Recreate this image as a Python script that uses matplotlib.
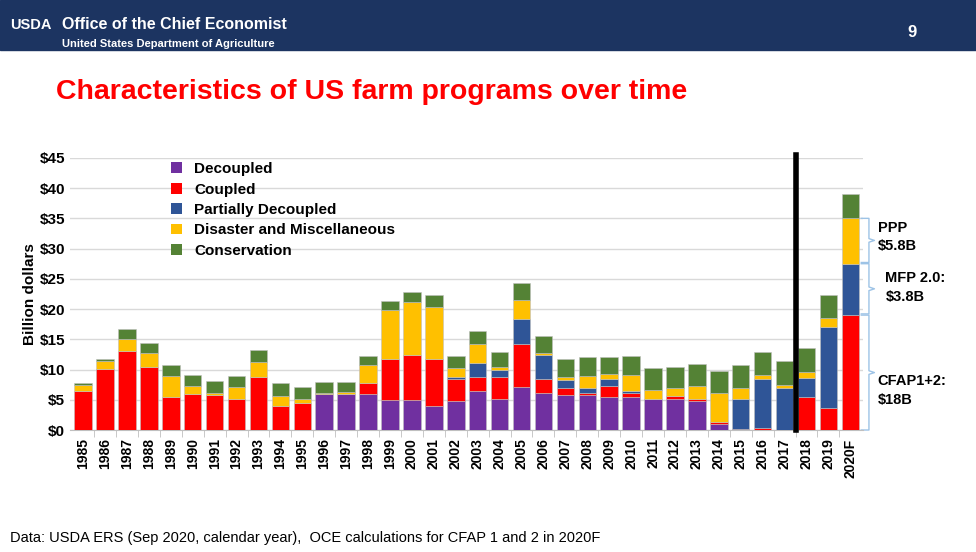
import matplotlib.pyplot as plt
import numpy as np

years = [str(y) for y in range(1985, 2020)] + ['2020F']
decoupled = [0, 0, 0, 0, 0, 0, 0, 0, 0, 0, 0, 5.9, 6.0, 5.9, 5.0, 5.0, 3.9, 4.8, 6.5, 5.1,
             7.1, 6.1, 5.8, 5.8, 5.4, 5.4, 5.2, 5.2, 4.8, 1.0, 0, 0, 0, 0, 0, 0]
coupled = [6.4, 10.1, 13.1, 10.4, 5.5, 5.9, 5.8, 5.2, 8.7, 3.9, 4.4, -0.2, -0.2, 1.9, 6.8, 7.4, 7.9, 3.7, 2.2, 3.7,
           7.2, 2.3, 1.2, 0.3, 1.9, 0.8, 0, 0.5, 0.4, 0.3, 0.1, 0.4, 0, 5.4, 3.6, 19.0]
partial = [0, 0, 0, 0, 0, 0, 0, 0, 0, 0, 0, 0, 0, 0, 0, 0, 0, 0.2, 2.3, 1.1,
           4.0, 4.0, 1.2, 0.8, 1.2, 0.2, 0, 0, 0, 0, 5.1, 8.0, 6.9, 3.2, 13.4, 8.5]
disaster = [1.0, 1.3, 1.9, 2.3, 3.5, 1.4, 0.4, 1.9, 2.6, 1.8, 0.8, 0.3, 0.3, 2.9, 8.1, 8.7, 8.6, 1.6, 3.3, 0.6,
            3.2, 0.3, 0.5, 2.1, 0.7, 2.7, 1.4, 1.2, 2.0, 4.8, 1.8, 0.7, 0.6, 1.0, 1.5, 7.5]
conservation = [0.3, 0.3, 1.7, 1.7, 1.7, 1.8, 1.9, 1.9, 2.0, 2.0, 1.9, 1.8, 1.6, 1.6, 1.5, 1.7, 1.9, 2.0, 2.1, 2.4,
                2.8, 2.9, 3.1, 3.1, 2.8, 3.2, 3.7, 3.6, 3.7, 3.6, 3.7, 3.8, 3.9, 3.9, 3.9, 4.1]

series = [('Decoupled', decoupled, '#7030a0'),
          ('Coupled', coupled, '#ff0000'),
          ('Partially Decoupled', partial, '#2f5597'),
          ('Disaster and Miscellaneous', disaster, '#ffc000'),
          ('Conservation', conservation, '#548235')]

fig = plt.figure(figsize=(9.76, 5.52), dpi=100)

# header band
fig.patches.append(plt.Rectangle((0, 1 - 50 / 552), 1, 50 / 552, transform=fig.transFigure,
                                 color='#1c3461', zorder=0))
fig.text(0.010, 0.955, 'USDA', color='white', fontsize=10.5, fontweight='bold', family='Liberation Sans',
         va='center')
fig.text(0.064, 0.955, 'Office of the Chief Economist', color='white', fontsize=11.5, fontweight='bold',
         family='Liberation Sans', va='center')
fig.text(0.064, 0.921, 'United States Department of Agriculture', color='white', fontsize=8,
         fontweight='bold', family='Liberation Sans', va='center')
fig.text(0.93, 0.942, '9', color='white', fontsize=12, fontweight='bold', family='Liberation Sans', va='center')
fig.text(0.057, 0.833, 'Characteristics of US farm programs over time', color='#ff0000', fontsize=20.5,
         fontweight='bold', family='Liberation Sans', va='center')
fig.text(0.01, 0.026, 'Data: USDA ERS (Sep 2020, calendar year),  OCE calculations for CFAP 1 and 2 in 2020F',
         fontsize=10.5, family='Liberation Sans', va='center')

ax = fig.add_axes([0.0717, 0.221, 0.813, 0.493])
x = np.arange(len(years))
pos_bottom = np.zeros(len(years))
for name, vals, col in series:
    v = np.array(vals)
    h = np.where(v > 0, v, 0)
    neg = np.where(v < 0, v, 0)
    ax.bar(x, h, 0.8, bottom=pos_bottom, color=col, label=name, edgecolor='#bfbfbf', linewidth=0.4, zorder=3)
    if neg.any():
        ax.bar(x, neg, 0.8, color=col, zorder=3, linewidth=0)
    pos_bottom += h

ax.set_xlim(-0.6, len(years) - 0.4)
ax.set_ylim(0, 45)
ax.set_yticks(np.arange(0, 46, 5))
ax.set_yticklabels(['$%d' % v for v in range(0, 46, 5)], fontsize=11, fontweight='bold', family='Liberation Sans')
ax.set_xticks(x)
ax.set_xticklabels(years, rotation=90, fontsize=10, fontweight='bold', family='Liberation Sans')
ax.set_xticks(x[:-1] + 0.5, minor=True)
ax.tick_params(axis='x', which='major', length=0, pad=6)
ax.tick_params(axis='x', which='minor', length=5, color='#bfbfbf')
ax.tick_params(axis='y', length=0)
ax.grid(axis='y', color='#d9d9d9', linewidth=1, zorder=0)
for s in ['top', 'right', 'left']:
    ax.spines[s].set_visible(False)
ax.spines['bottom'].set_color('#bfbfbf')
ax.set_ylabel('Billion dollars', fontsize=11, fontweight='bold', family='Liberation Sans', labelpad=2)

# 2018 divider
ax.plot([32.5, 32.5], [0, 45.5], color='black', linewidth=4, clip_on=False, zorder=5)

# brackets on 2020F
i = len(years) - 1
c = coupled[i]
p = c + partial[i]
d = p + disaster[i]
bx = i + 0.5
for lo, hi in [(0, c), (c + 0.2, p), (p + 0.2, d)]:
    mid = (lo + hi) / 2
    ax.plot([bx, bx + 0.35, bx + 0.35, bx + 0.6, bx + 0.35, bx + 0.35, bx], [lo, lo, mid - 0.3, mid, mid + 0.3, hi, hi],
            color='#9dc3e6', linewidth=1, clip_on=False)
ax.text(bx + 0.75, d - 0.4, 'PPP\n$5.8B', fontsize=10.5, fontweight='bold', family='Liberation Sans',
        va='top', linespacing=1.4)
ax.text(bx + 1.1, (c + p) / 2 + 0.3, 'MFP 2.0:\n$3.8B', fontsize=10.5, fontweight='bold',
        family='Liberation Sans', va='center', linespacing=1.4)
ax.text(bx + 0.75, c / 2 - 3.0, 'CFAP1+2:\n$18B', fontsize=10.5, fontweight='bold',
        family='Liberation Sans', va='center', linespacing=1.4)

leg = ax.legend(loc='upper left', bbox_to_anchor=(0.11, 1.035), frameon=False,
                handlelength=0.7, handleheight=0.7, labelspacing=0.42, handletextpad=0.8,
                prop={'family': 'Liberation Sans', 'weight': 'bold', 'size': 11})
for h in leg.legend_handles:
    h.set_edgecolor('none')

fig.savefig('out.png', dpi=100)
